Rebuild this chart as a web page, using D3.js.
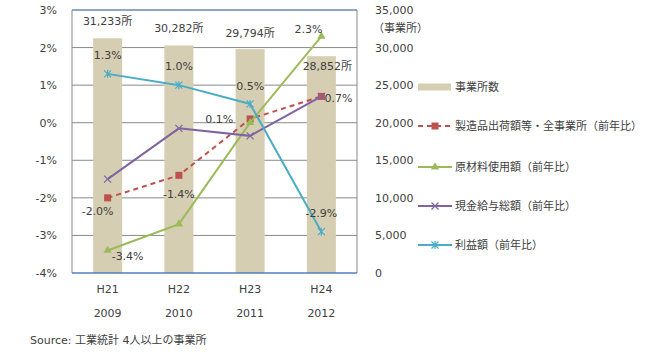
<!DOCTYPE html>
<html><head><meta charset="utf-8">
<script src="https://cdn.jsdelivr.net/npm/d3@7"></script>
<style>
body{margin:0;background:#fff;}
text{font-family:"DejaVu Sans","Noto Sans CJK JP",sans-serif;fill:#404040;}
</style></head>
<body><svg id="c" width="647" height="357"></svg>
<script>
const eras = ["H21","H22","H23","H24"];
const years = ["2009","2010","2011","2012"];
const establishments = [31233, 30282, 29794, 28852];
const shipments = [-2.0, -1.4, 0.1, 0.7];
const materials = [-3.4, -2.7, 0.0, 2.3];
const wages = [-1.5, -0.15, -0.35, 0.7];
const profits = [1.3, 1.0, 0.5, -2.9];
const leftTicks = [3,2,1,0,-1,-2,-3,-4];
const rightTicks = [0,5000,10000,15000,20000,25000,30000,35000];
const legendNames = ["事業所数","製造品出荷額等・全事業所（前年比）","原材料使用額（前年比）","現金給与総額（前年比）","利益額（前年比）"];

const svg = d3.select("#c");
const L=72, R=357, T=10, B=273;
const x = d3.scaleBand().domain(eras).range([L,R]);
const yL = d3.scaleLinear().domain([-4,3]).range([B,T]);
const yR = d3.scaleLinear().domain([0,35000]).range([B,T]);
const cx = d => x(d)+x.bandwidth()/2;

// gridlines
svg.append("g").selectAll("line").data(leftTicks.filter(t=>t>-4)).join("line")
  .attr("x1",L).attr("x2",R).attr("y1",d=>yL(d)).attr("y2",d=>yL(d))
  .attr("stroke","#8a8a8a").attr("stroke-width",1);
// frame
svg.append("line").attr("x1",L).attr("x2",L).attr("y1",T).attr("y2",B).attr("stroke","#8a8a8a");
svg.append("line").attr("x1",R).attr("x2",R).attr("y1",T).attr("y2",B).attr("stroke","#8a8a8a");
svg.append("line").attr("x1",L).attr("x2",R).attr("y1",T).attr("y2",T).attr("stroke","#5b89c0");

// bars
const bw = 29;
svg.append("g").selectAll("rect").data(establishments).join("rect")
  .attr("x",(d,i)=>cx(eras[i])-bw/2).attr("width",bw)
  .attr("y",d=>yR(d)).attr("height",d=>B-yR(d)).attr("fill","#d5ceb2");

svg.append("line").attr("x1",L).attr("x2",R).attr("y1",B).attr("y2",B).attr("stroke","#4f81bd").attr("stroke-width",1.5);

// axes
const axL = svg.append("g").attr("transform",`translate(${L-12},0)`)
  .call(d3.axisLeft(yL).tickValues(leftTicks).tickSize(0).tickFormat(d=>d+"%"));
const axR = svg.append("g").attr("transform",`translate(${R+15},0)`)
  .call(d3.axisRight(yR).tickValues(rightTicks).tickSize(0).tickFormat(d3.format(",")));
[axL,axR].forEach(a=>{a.select(".domain").remove();a.selectAll("text").attr("font-size",11).attr("fill","#404040").attr("font-family",'"DejaVu Sans","Noto Sans CJK JP",sans-serif');});
svg.append("text").attr("x",373).attr("y",32).attr("font-size",11).text("（事業所）");

const axX = svg.append("g");
axX.selectAll("text.era").data(eras).join("text").attr("class","era")
  .attr("x",d=>cx(d)).attr("y",293).attr("text-anchor","middle").attr("font-size",11).text(d=>d);
axX.selectAll("text.yr").data(years).join("text").attr("class","yr")
  .attr("x",(d,i)=>cx(eras[i])).attr("y",317).attr("text-anchor","middle").attr("font-size",11).text(d=>d);

svg.append("text").attr("x",30).attr("y",344).attr("font-size",11).text("Source: 工業統計 4人以上の事業所");

// lines
const series = [
  {vals:shipments,color:"#c0504d",dash:"5,4",marker:"square"},
  {vals:materials,color:"#9bbb59",dash:null,marker:"triangle"},
  {vals:wages,color:"#8064a2",dash:null,marker:"x"},
  {vals:profits,color:"#4bacc6",dash:null,marker:"star"}
];
const line = d3.line().x((d,i)=>cx(eras[i])).y(d=>yL(d));
function drawMarker(g,type,color){
  if(type==="square") g.append("rect").attr("x",-3.5).attr("y",-3.5).attr("width",7).attr("height",7).attr("fill",color);
  else if(type==="triangle") g.append("path").attr("d",d3.symbol(d3.symbolTriangle,30)()).attr("fill",color);
  else if(type==="x") g.append("path").attr("d","M-3.5,-3.5L3.5,3.5M-3.5,3.5L3.5,-3.5").attr("stroke",color).attr("stroke-width",1.2).attr("fill","none");
  else g.append("path").attr("d","M-3.5,-3.5L3.5,3.5M-3.5,3.5L3.5,-3.5M0,-4L0,4").attr("stroke",color).attr("stroke-width",1.2).attr("fill","none");
}
series.forEach(s=>{
  svg.append("path").datum(s.vals).attr("d",line).attr("fill","none")
    .attr("stroke",s.color).attr("stroke-width",2).attr("stroke-dasharray",s.dash);
  s.vals.forEach((v,i)=>{
    const g = svg.append("g").attr("transform",`translate(${cx(eras[i])},${yL(v)})`);
    drawMarker(g,s.marker,s.color);
  });
});

// data labels
const fmtN = d3.format(",");
const estOff = [[0,-13],[0,-13],[0,-12],[6,14]];
establishments.forEach((v,i)=>{
  svg.append("text").attr("x",cx(eras[i])+estOff[i][0]).attr("y",yR(v)+estOff[i][1])
    .attr("text-anchor","middle").attr("font-size",11).text(fmtN(v)+"所");
});
const pct = d=>d.toFixed(1)+"%";
const labels = [
  {s:profits,i:0,dx:0,dy:-15},{s:profits,i:1,dx:0,dy:-15},{s:profits,i:2,dx:0,dy:-14},{s:profits,i:3,dx:0,dy:-15},
  {s:shipments,i:0,dx:-10,dy:17},{s:shipments,i:1,dx:0,dy:23},{s:shipments,i:2,dx:-31,dy:4},{s:shipments,i:3,dx:17,dy:6},
  {s:materials,i:0,dx:20,dy:10},{s:materials,i:3,dx:-13,dy:-3}
];
labels.forEach(l=>{
  svg.append("text").attr("x",cx(eras[l.i])+l.dx).attr("y",yL(l.s[l.i])+l.dy)
    .attr("text-anchor","middle").attr("font-size",11).text(pct(l.s[l.i]));
});

// legend
const legY = [87,126,167,206,245];
const lg = svg.append("g");
lg.append("rect").attr("x",418).attr("y",legY[0]-3.5).attr("width",33).attr("height",7).attr("fill","#d5ceb2");
series.forEach((s,k)=>{
  const y = legY[k+1];
  lg.append("line").attr("x1",418).attr("x2",452).attr("y1",y).attr("y2",y)
    .attr("stroke",s.color).attr("stroke-width",2).attr("stroke-dasharray",s.dash);
  drawMarker(lg.append("g").attr("transform",`translate(435,${y})`),s.marker,s.color);
});
lg.selectAll("text").data(legendNames).join("text")
  .attr("x",455).attr("y",(d,i)=>legY[i]+4).attr("font-size",11).text(d=>d);
</script></body></html>
